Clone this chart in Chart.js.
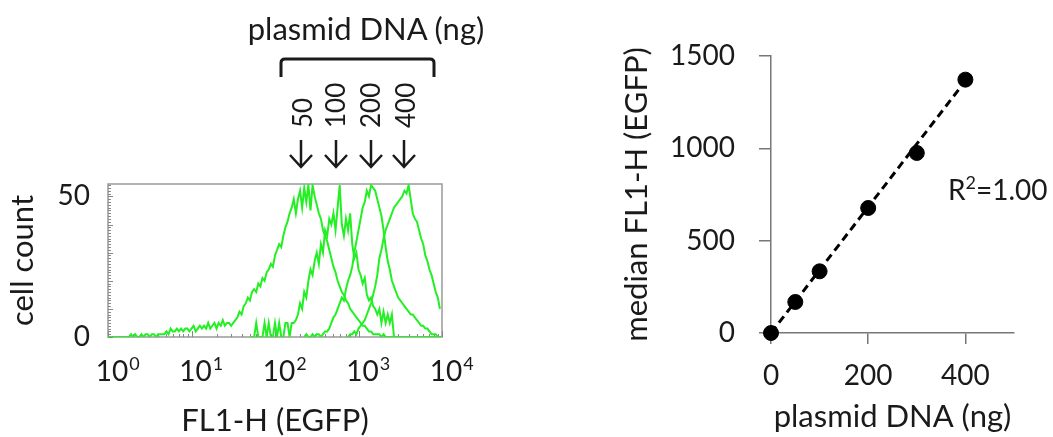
<!DOCTYPE html>
<html lang="en">
<head>
    <meta charset="UTF-8">
    <title>EGFP expression vs plasmid DNA</title>
    <style>
        body {
            margin: 0;
            background-color: white;
            font-family: Lato, sans-serif;
        }
        .page {
            position: relative;
            width: 1053px;
            height: 437px;
            overflow: hidden;
        }
        #histChart {
            position: absolute;
            left: 0;
            top: 0;
        }
        #doseChart {
            position: absolute;
            left: 618px;
            top: 0;
        }
        #notes {
            position: absolute;
            left: 0;
            top: 0;
            pointer-events: none;
        }
    </style>
</head>
<body>
<div class="page">
    <canvas id="histChart" width="540" height="437"></canvas>
    <canvas id="doseChart" width="435" height="437"></canvas>
    <svg id="notes" width="1053" height="437" font-family="Lato, sans-serif" fill="#1a1a1a">
        <text x="366" y="40" font-size="31" text-anchor="middle">plasmid DNA (ng)</text>
        <path d="M281,77 L281,63 Q281,59 285,59 L430,59 Q434,59 434,63 L434,77" fill="none" stroke="#1a1a1a" stroke-width="3"/>
        <g id="doseLabels" font-size="26"></g>
        <g id="doseArrows" fill="none" stroke="#1a1a1a" stroke-width="2.5"></g>
        <text x="948" y="200" font-size="28">R<tspan font-size="18" dy="-11">2</tspan><tspan dy="11">=1.00</tspan></text>
    </svg>
</div>

<script src="https://cdn.jsdelivr.net/npm/chart.js"></script>
<script>
    // histogram bins: log10(FL1-H), 0.025 decade wide
    const histStep = 0.025;
    const ng50Start = 0.0;
    const ng50Counts = [
        0, 0, 0, 0, 0, 0, 0, 0, 0, 0,
        0, 1, 0, 1, 0, 0, 1, 0, 1, 1,
        0, 1, 1, 0, 1, 1, 1, 1, 2, 1,
        3, 2, 2, 3, 2, 3, 2, 3, 3, 2,
        3, 4, 2, 3, 4, 3, 4, 3, 5, 3,
        4, 5, 3, 5, 4, 6, 4, 5, 5, 4,
        5, 6, 7, 9, 8, 11, 12, 14, 13, 16,
        17, 16, 19, 18, 21, 20, 23, 24, 26, 25,
        29, 31, 33, 32, 36, 39, 41, 44, 46, 49,
        44, 49, 52, 46, 53, 48, 54, 45, 54, 50,
        47, 44, 42, 38, 36, 34, 31, 28, 25, 23,
        20, 18, 16, 15, 13, 12, 10, 9, 8, 7,
        6, 5, 4, 4, 3, 2, 2, 1, 1, 1,
        1, 0, 1, 0, 0, 0, 0, 0, 0, 0,
        0, 0, 0, 0, 0, 0, 0, 0, 0, 0,
        0, 0, 0, 0, 0, 0, 0, 0, 0, 0,
        0];
    const ng100Start = 1.70;
    const ng100Counts = [
        0, 0, 0, 5, 0, 0, 0, 5, 0, 5,
        0, 0, 5, 0, 5, 0, 0, 5, 5, 0,
        5, 5, 6, 8, 12, 10, 16, 14, 20, 24,
        22, 27, 30, 26, 33, 30, 38, 36, 42, 40,
        44, 38, 46, 54, 40, 36, 42, 38, 44, 33,
        28, 30, 24, 22, 19, 21, 15, 13, 14, 11,
        10, 8, 10, 5, 9, 5, 8, 5, 8, 0,
        0, 0, 0];
    const ng200Start = 2.35;
    const ng200Counts = [
        0, 1, 0, 0, 1, 0, 1, 1, 0, 1,
        2, 2, 3, 5, 7, 8, 10, 12, 14, 13,
        17, 20, 22, 25, 30, 34, 38, 42, 46, 48,
        52, 50, 54, 53, 52, 49, 46, 43, 38, 32,
        27, 24, 20, 18, 16, 14, 13, 12, 11, 10,
        9, 8, 8, 7, 6, 5, 4, 4, 3, 3,
        2, 1, 1, 1, 0, 0, 0];
    const ng400Start = 2.85;
    const ng400Counts = [
        0, 0, 1, 1, 2, 1, 3, 4, 5, 6,
        8, 10, 12, 15, 18, 22, 28, 31, 35, 38,
        40, 42, 44, 46, 47, 48, 49, 50, 52, 51,
        54, 49, 44, 42, 41, 38, 35, 33, 29, 27,
        24, 22, 19, 16, 14, 10];

    const histDecades = [0, 1, 2, 3, 4];
    const histYTicks = [0, 50];

    // median fluorescence vs plasmid amount
    const plasmidNg = [0, 50, 100, 200, 300, 400];
    const medianFL1 = [0, 168, 334, 677, 975, 1372];
    const fitNg = [0, 400];
    const fitFL1 = [0, 1365];

    // top annotation
    const doseTexts = ['50', '100', '200', '400'];
    const doseTextX = [312, 345, 380, 415];
    const doseArrowX = [301, 336, 371, 404];

    const green = '#22f022';
    const ink = '#1a1a1a';
    const axisGray = '#777777';

    function toPoints(start, counts) {
        return counts.map((c, i) => ({ x: Math.pow(10, start + i * histStep), y: c }));
    }

    function histSet(start, counts) {
        return {
            data: toPoints(start, counts),
            borderColor: green,
            borderWidth: 2,
            pointRadius: 0,
            tension: 0,
            fill: false
        };
    }

    const histFrame = {
        id: 'histFrame',
        beforeDatasetsDraw(chart) {
            const { ctx, chartArea: a, scales } = chart;
            ctx.save();
            ctx.strokeStyle = '#999999';
            ctx.lineWidth = 1.5;
            ctx.strokeRect(a.left, a.top, a.right - a.left, a.bottom - a.top);
            ctx.lineWidth = 1;
            ctx.strokeStyle = '#888888';
            ctx.beginPath();
            for (let v = 0; v <= 54; v++) {
                const y = Math.round(scales.y.getPixelForValue(v)) + 0.5;
                const len = v % 10 === 0 ? 5 : 3;
                ctx.moveTo(a.left, y);
                ctx.lineTo(a.left + len, y);
            }
            for (let d = 0; d < 4; d++) {
                for (let m = 1; m <= 10; m++) {
                    const x = Math.round(scales.x.getPixelForValue(m * Math.pow(10, d))) + 0.5;
                    const len = (m === 1 || m === 10) ? 6 : 3;
                    ctx.moveTo(x, a.bottom);
                    ctx.lineTo(x, a.bottom - len);
                }
            }
            ctx.stroke();
            ctx.restore();
        },
        afterDraw(chart) {
            const { ctx, scales } = chart;
            ctx.save();
            ctx.fillStyle = ink;
            histDecades.forEach(e => {
                const x = scales.x.getPixelForValue(Math.pow(10, e)) + 4;
                ctx.font = '28px Lato';
                ctx.textAlign = 'center';
                ctx.textBaseline = 'alphabetic';
                ctx.fillText('10', x, 381);
                const w = ctx.measureText('10').width;
                ctx.font = '18px Lato';
                ctx.textAlign = 'left';
                ctx.fillText(String(e), x + w / 2 + 1, 370);
            });
            ctx.restore();
        }
    };

    new Chart(document.getElementById('histChart'), {
        type: 'line',
        data: {
            datasets: [
                histSet(ng50Start, ng50Counts),
                histSet(ng100Start, ng100Counts),
                histSet(ng200Start, ng200Counts),
                histSet(ng400Start, ng400Counts)
            ]
        },
        options: {
            responsive: false,
            animation: false,
            layout: { padding: { left: 0, top: 184, right: 98, bottom: 0 } },
            plugins: { legend: { display: false }, tooltip: { enabled: false } },
            scales: {
                x: {
                    type: 'logarithmic',
                    min: 1,
                    max: 10000,
                    grid: { display: false },
                    border: { display: false },
                    ticks: { display: false },
                    title: {
                        display: true,
                        text: 'FL1-H (EGFP)',
                        color: ink,
                        font: { family: 'Lato', size: 31 },
                        padding: { top: 0, bottom: -3 }
                    },
                    afterFit(scale) { scale.height = 100; }
                },
                y: {
                    min: 0,
                    max: 54.4,
                    grid: { display: false },
                    border: { display: false },
                    afterBuildTicks(scale) { scale.ticks = histYTicks.map(v => ({ value: v })); },
                    ticks: {
                        color: ink,
                        padding: 10,
                        font: { family: 'Lato', size: 28 }
                    },
                    title: {
                        display: true,
                        text: 'cell count',
                        color: ink,
                        font: { family: 'Lato', size: 31 },
                        padding: { top: 4, bottom: 0 }
                    },
                    afterFit(scale) { scale.width = 108; }
                }
            }
        },
        plugins: [histFrame]
    });

    new Chart(document.getElementById('doseChart'), {
        type: 'scatter',
        data: {
            datasets: [
                {
                    data: plasmidNg.map((x, i) => ({ x: x, y: medianFL1[i] })),
                    backgroundColor: '#000000',
                    borderColor: '#000000',
                    pointRadius: 7.5,
                    clip: false
                },
                {
                    type: 'line',
                    data: fitNg.map((x, i) => ({ x: x, y: fitFL1[i] })),
                    borderColor: '#000000',
                    borderWidth: 3,
                    borderDash: [8, 5],
                    pointRadius: 0,
                    fill: false
                }
            ]
        },
        options: {
            responsive: false,
            animation: false,
            layout: { padding: { left: 0, top: 56, right: 39, bottom: 0 } },
            plugins: { legend: { display: false }, tooltip: { enabled: false } },
            scales: {
                x: {
                    type: 'linear',
                    min: 0,
                    max: 500,
                    grid: { drawOnChartArea: false, color: axisGray, lineWidth: 1.5, tickLength: 11 },
                    border: { color: axisGray, width: 1.5 },
                    ticks: {
                        stepSize: 200,
                        includeBounds: false,
                        color: ink,
                        padding: 15,
                        font: { family: 'Lato', size: 28 },
                        callback: v => String(v)
                    },
                    title: {
                        display: true,
                        text: 'plasmid DNA (ng)',
                        color: ink,
                        font: { family: 'Lato', size: 31 },
                        padding: { top: 0, bottom: 1 }
                    },
                    afterFit(scale) { scale.height = 104; }
                },
                y: {
                    min: 0,
                    max: 1500,
                    grid: { drawOnChartArea: false, color: axisGray, lineWidth: 1.5, tickLength: 12 },
                    border: { color: axisGray, width: 1.5 },
                    ticks: {
                        stepSize: 500,
                        color: ink,
                        padding: 24,
                        font: { family: 'Lato', size: 28 },
                        callback: v => String(v)
                    },
                    title: {
                        display: true,
                        text: 'median FL1-H (EGFP)',
                        color: ink,
                        font: { family: 'Lato', size: 31 },
                        padding: { top: 0, bottom: 0 }
                    },
                    afterFit(scale) { scale.width = 153; }
                }
            }
        }
    });

    // rotated dose numbers and arrows above the histogram
    const svgNS = 'http://www.w3.org/2000/svg';
    const labelGroup = document.getElementById('doseLabels');
    doseTexts.forEach((t, i) => {
        const el = document.createElementNS(svgNS, 'text');
        el.setAttribute('transform', 'translate(' + doseTextX[i] + ',128) rotate(-90)');
        el.textContent = t;
        labelGroup.appendChild(el);
    });
    const arrowGroup = document.getElementById('doseArrows');
    doseArrowX.forEach(x => {
        const p = document.createElementNS(svgNS, 'path');
        p.setAttribute('d', 'M' + x + ',140 L' + x + ',167 M' + (x - 11) + ',155 L' + x + ',167 L' + (x + 11) + ',155');
        arrowGroup.appendChild(p);
    });
</script>
</body>
</html>
